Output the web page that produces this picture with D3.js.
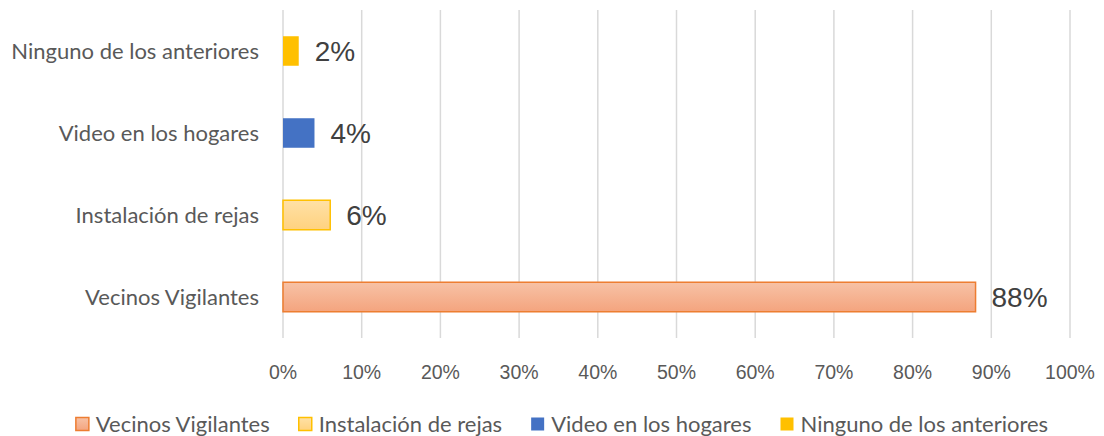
<!DOCTYPE html>
<html lang="es">
<head>
<meta charset="utf-8"/>
<title>Medidas de seguridad</title>
<style>
  body { margin: 0; background: #fff; }
  svg { display: block; }
</style>
</head>
<body>
<div id="chart"></div>
<script src="https://cdn.jsdelivr.net/npm/d3@7"></script>
<script>
  // data, top to bottom as drawn
  const categories = ["Ninguno de los anteriores", "Video en los hogares", "Instalación de rejas", "Vecinos Vigilantes"];
  const values = [0.02, 0.04, 0.06, 0.88];
  const legendOrder = ["Vecinos Vigilantes", "Instalación de rejas", "Video en los hogares", "Ninguno de los anteriores"];
  const xTicks = [0, 0.1, 0.2, 0.3, 0.4, 0.5, 0.6, 0.7, 0.8, 0.9, 1.0];

  const fills = {
    "Vecinos Vigilantes": "url(#gradVecinos)",
    "Instalación de rejas": "url(#gradRejas)",
    "Video en los hogares": "#4472c4",
    "Ninguno de los anteriores": "#ffc000"
  };
  const strokes = {
    "Vecinos Vigilantes": "#ed7d31",
    "Instalación de rejas": "#ffc000",
    "Video en los hogares": "none",
    "Ninguno de los anteriores": "none"
  };

  const width = 1104, height = 436;
  const svg = d3.select("#chart").append("svg")
      .attr("width", width)
      .attr("height", height);

  const defs = svg.append("defs");
  function grad(id, top, bottom) {
    const g = defs.append("linearGradient").attr("id", id)
        .attr("x1", 0).attr("y1", 0).attr("x2", 0).attr("y2", 1);
    g.append("stop").attr("offset", "0%").attr("stop-color", top);
    g.append("stop").attr("offset", "100%").attr("stop-color", bottom);
  }
  grad("gradVecinos", "#f7c2a6", "#f4a47e");
  grad("gradRejas", "#ffe1a6", "#ffd27f");

  const x = d3.scaleLinear().domain([0, 1]).range([283, 1070]);
  const y = d3.scaleBand().domain(categories).range([10, 338])
      .paddingInner(0.64).paddingOuter(0.32);

  // gridlines
  svg.append("g")
    .selectAll("line")
    .data(xTicks)
    .join("line")
      .attr("x1", d => x(d)).attr("x2", d => x(d))
      .attr("y1", 10).attr("y2", 338)
      .attr("stroke", "#d9d9d9")
      .attr("stroke-width", 1.5);

  // x tick labels
  svg.append("g")
    .selectAll("text")
    .data(xTicks)
    .join("text")
      .attr("x", d => x(d))
      .attr("y", 379)
      .attr("text-anchor", "middle")
      .attr("font-family", "'Liberation Sans', Arial, sans-serif")
      .attr("font-size", 19.5)
      .attr("fill", "#595959")
      .text(d => d3.format(".0%")(d));

  // category labels
  svg.append("g")
    .selectAll("text")
    .data(categories)
    .join("text")
      .attr("x", 259)
      .attr("y", d => y(d) + y.bandwidth() / 2)
      .attr("dy", "0.35em")
      .attr("text-anchor", "end")
      .attr("font-family", "Lato, 'Open Sans', sans-serif")
      .attr("font-size", 22)
      .attr("fill", "#595959")
      .text(d => d);

  // bars
  svg.append("g")
    .selectAll("rect")
    .data(categories)
    .join("rect")
      .attr("x", x(0))
      .attr("y", d => y(d))
      .attr("width", (d, i) => x(values[i]) - x(0))
      .attr("height", y.bandwidth())
      .attr("fill", d => fills[d])
      .attr("stroke", d => strokes[d])
      .attr("stroke-width", 1.5);

  // value labels
  svg.append("g")
    .selectAll("text")
    .data(categories)
    .join("text")
      .attr("x", (d, i) => x(values[i]) + 16)
      .attr("y", d => y(d) + y.bandwidth() / 2)
      .attr("dy", "0.36em")
      .attr("font-family", "'Liberation Sans', Arial, sans-serif")
      .attr("font-size", 28)
      .attr("fill", "#404040")
      .text((d, i) => d3.format(".0%")(values[i]));

  // legend, centred
  const legend = svg.append("g");
  const items = legend.selectAll("g")
    .data(legendOrder)
    .join("g");
  items.append("rect")
      .attr("x", 0).attr("y", -6.5)
      .attr("width", 13).attr("height", 13)
      .attr("fill", d => fills[d])
      .attr("stroke", d => strokes[d])
      .attr("stroke-width", 1.5);
  items.append("text")
      .attr("x", 20)
      .attr("dy", "0.35em")
      .attr("font-family", "Lato, 'Open Sans', sans-serif")
      .attr("font-size", 22)
      .attr("fill", "#595959")
      .text(d => d);

  let offset = 0;
  items.each(function() {
    const w = this.getBBox().width;
    d3.select(this).attr("transform", `translate(${offset},424)`);
    offset += w + 29;
  });
  const total = offset - 29;
  legend.attr("transform", `translate(${(width - total) / 2 + 10},0)`);
</script>
</body>
</html>
